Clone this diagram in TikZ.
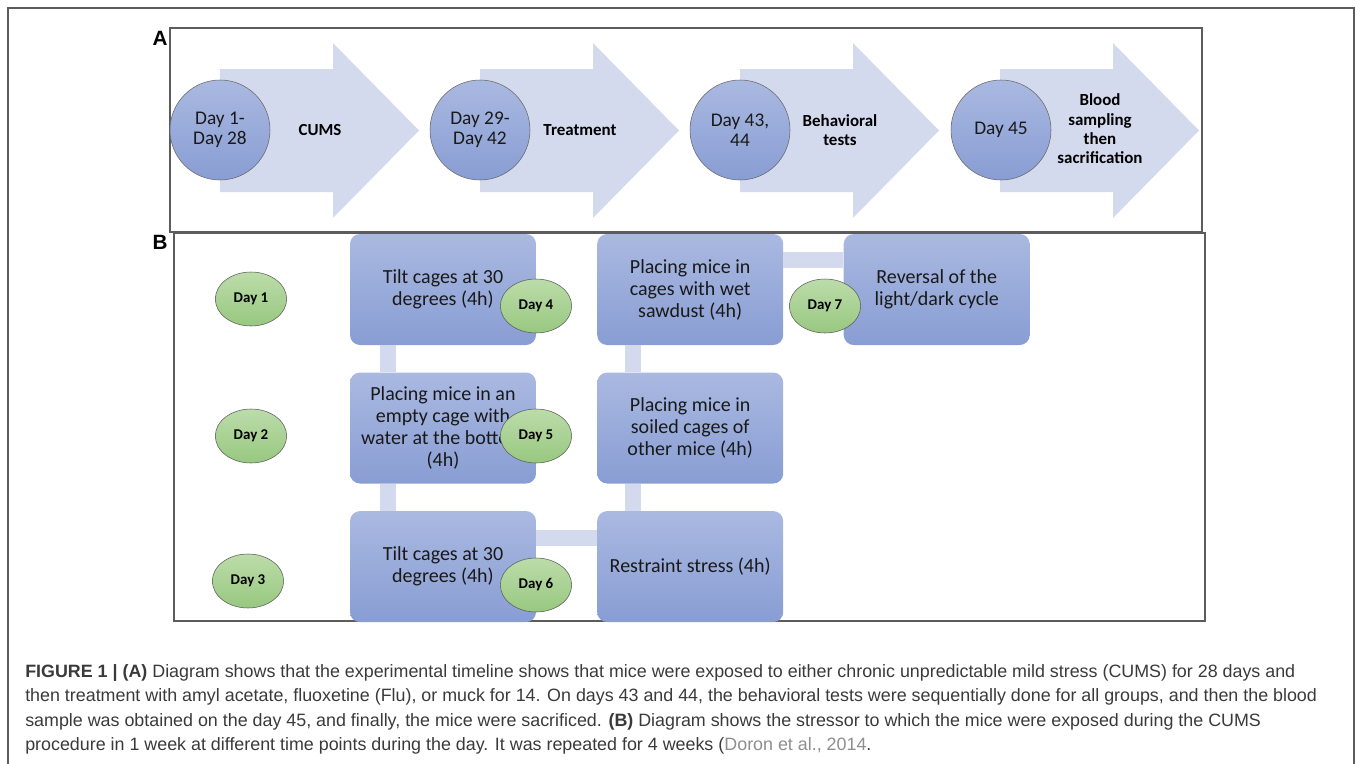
\documentclass[tikz,border=0pt]{standalone}
\usepackage{fontspec}
\setmainfont{Carlito}
\newfontfamily\capfont{Liberation Sans}
\usetikzlibrary{positioning, shapes.geometric, calc}
\definecolor{stepblueT}{HTML}{AAB9E1}
\definecolor{stepblueB}{HTML}{889DD3}
\definecolor{arrowlav}{HTML}{D4DAEE}
\definecolor{dayT}{HTML}{BCDCAA}
\definecolor{dayB}{HTML}{98C880}
\definecolor{framegray}{HTML}{5C5C5C}
\definecolor{captxt}{HTML}{3A3A3A}
\definecolor{citegray}{HTML}{8E8E8E}

\tikzset{
  phase/.style={circle, minimum size=75pt, inner sep=0pt, draw=black!60, line width=0.4pt,
    top color=stepblueT, bottom color=stepblueB, align=center, text=black!90,
    font=\fontsize{14.5}{15}\selectfont},
  stagetxt/.style={align=center, inner sep=0pt, font=\bfseries\fontsize{12.7}{14.5}\selectfont},
  stressor/.style={rectangle, rounded corners=7.5pt, minimum width=139.5pt, minimum height=83.25pt,
    inner sep=0pt, top color=stepblueT, bottom color=stepblueB, align=center, text=black!90,
    font=\fontsize{15}{16.5}\selectfont},
  dayoval/.style={ellipse, minimum width=53.5pt, minimum height=40.5pt, inner sep=0pt,
    draw=black!65, line width=0.4pt, top color=dayT, bottom color=dayB,
    font=\bfseries\fontsize{11.2}{12}\selectfont},
  link/.style={draw=arrowlav, line width=12pt},
  panelbox/.style={draw=framegray, line width=0.9pt},
  panellbl/.style={inner sep=0pt, font=\capfont\bfseries\fontsize{15.5}{16}\selectfont},
  capline/.style={anchor=base west, inner sep=0pt, text=captxt, font=\capfont\fontsize{13.4}{15}\selectfont}
}

\begin{document}
\begin{tikzpicture}[x=0.75pt, y=-0.75pt]
    \useasboundingbox (0,0) rectangle (1357,764);
    % outer frame (open at the bottom)
    \draw[draw=framegray, line width=1.1pt] (8,764)--(8,8)--(1354,8)--(1354,764);

    % panel A
    \draw[panelbox] (170,28) rectangle (1202,232);
    \node[panellbl] (labA) at (160,38) {A};
    \foreach \cx in {220,480,740,1000}
      \fill[arrowlav] (\cx,69) -- ({\cx+113},69) -- ({\cx+113},43) -- ({\cx+199},130.5)
        -- ({\cx+113},218) -- ({\cx+113},192) -- (\cx,192) -- cycle;

    \node[phase] (p1) at (220,130) {Day 1-\\Day 28};
    \node[phase] (p2) at (480,130) {Day 29-\\Day 42};
    \node[phase] (p3) at (740,130) {Day 43,\\44};
    \node[phase] (p4) at (1001,130) {Day 45};

    \node[stagetxt] (s1) at (320,130) {CUMS};
    \node[stagetxt] (s2) at (580,130) {Treatment};
    \node[stagetxt] (s3) at (840,130) {Behavioral\\tests};
    \node[stagetxt] (s4) at (1100,129) {Blood\\sampling\\then\\sacrification};

    % panel B
    \draw[panelbox] (174,233) rectangle (1205,621);
    \node[panellbl] (labB) at (160,242) {B};

    \node[stressor] (t1) at (443,289.5) {Tilt cages at 30\\degrees (4h)};
    \node[stressor, below=20.25pt of t1] (t2) {Placing mice in an\\empty cage with\\water at the bottom\\(4h)};
    \node[stressor, below=20.25pt of t2] (t3) {Tilt cages at 30\\degrees (4h)};
    \node[stressor, right=45.5pt of t1] (w1) {Placing mice in\\cages with wet\\sawdust (4h)};
    \node[stressor, below=20.25pt of w1] (w2) {Placing mice in\\soiled cages of\\other mice (4h)};
    \node[stressor, below=20.25pt of w2] (w3) {Restraint stress (4h)};
    \node[stressor, right=45pt of w1] (r1) {Reversal of the\\light/dark cycle};

    % links between the stressors
    \draw[link] ($(t1.south west)+(38,0)$) -- ($(t2.north west)+(38,0)$);
    \draw[link] ($(t2.south west)+(38,0)$) -- ($(t3.north west)+(38,0)$);
    \draw[link] ($(t3.north east)+(0,27.5)$) -- ($(w3.north west)+(0,27.5)$);
    \draw[link] ($(w3.north west)+(36,0)$) -- ($(w2.south west)+(36,0)$);
    \draw[link] ($(w2.north west)+(36,0)$) -- ($(w1.south west)+(36,0)$);
    \draw[link] ($(w1.north east)+(0,26)$) -- ($(r1.north west)+(0,26)$);

    \node[dayoval] (d1) at (251,299) {Day 1};
    \node[dayoval] (d2) at (251,436) {Day 2};
    \node[dayoval] (d3) at (248,581) {Day 3};
    \node[dayoval] (d4) at (536,306) {Day 4};
    \node[dayoval] (d5) at (536,436) {Day 5};
    \node[dayoval] (d6) at (536,585) {Day 6};
    \node[dayoval] (d7) at (825,306) {Day 7};

    % caption
    \node[capline] (c1) at (25,677) {\textbf{FIGURE 1 | (A)} Diagram shows that the experimental timeline shows that mice were exposed to either chronic unpredictable mild stress (CUMS) for 28 days and};
    \node[capline] (c2) at (25,701.5) {then treatment with amyl acetate, fluoxetine (Flu), or muck for 14. On days 43 and 44, the behavioral tests were sequentially done for all groups, and then the blood};
    \node[capline] (c3) at (25,726) {sample was obtained on the day 45, and finally, the mice were sacrificed. \textbf{(B)} Diagram shows the stressor to which the mice were exposed during the CUMS};
    \node[capline] (c4) at (25,750.5) {procedure in 1 week at different time points during the day. It was repeated for 4 weeks ({\color{citegray}Doron et al., 2014}.};
\end{tikzpicture}
\end{document}
